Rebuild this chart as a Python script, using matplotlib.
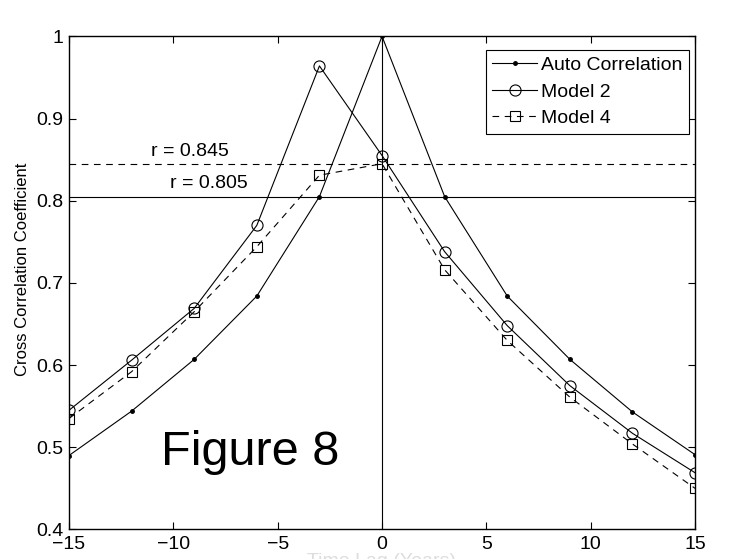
import matplotlib
matplotlib.use("Agg")
import matplotlib.pyplot as plt
from matplotlib.ticker import FixedLocator, FixedFormatter

plt.rcParams['font.family'] = ['Liberation Sans', 'DejaVu Sans']

lags = [-15, -12, -9, -6, -3, 0, 3, 6, 9, 12, 15]
auto_corr = [0.490, 0.544, 0.607, 0.684, 0.805, 1.000, 0.805, 0.684, 0.607, 0.543, 0.491]
model2 = [0.545, 0.606, 0.669, 0.770, 0.964, 0.855, 0.738, 0.648, 0.575, 0.517, 0.469]
model4 = [0.535, 0.592, 0.665, 0.744, 0.831, 0.845, 0.716, 0.630, 0.561, 0.504, 0.450]
r_model4 = 0.845
r_model2 = 0.805
xticks = [-15, -10, -5, 0, 5, 10, 15]
yticks = [0.4, 0.5, 0.6, 0.7, 0.8, 0.9, 1.0]
ytick_labels = ['0.4', '0.5', '0.6', '0.7', '0.8', '0.9', '1']

fig = plt.figure(figsize=(7.45, 5.59), dpi=100)
ax = fig.add_axes([0.0926, 0.0528, 0.8404, 0.8822])

lw = 0.8
ax.plot(lags, auto_corr, '-', color='black', lw=lw, marker='o', markersize=2.5,
        markerfacecolor='black', label='Auto Correlation')
ax.plot(lags, model2, '-', color='black', lw=lw, marker='o', markersize=8,
        markerfacecolor='none', markeredgewidth=0.8, label='Model 2')
ax.plot(lags, model4, '--', color='black', lw=lw, marker='s', markersize=6.5,
        markerfacecolor='none', markeredgewidth=0.8, dashes=(6, 5), label='Model 4')

ax.axhline(r_model4, color='black', lw=lw, ls='--', dashes=(6, 5))
ax.axhline(r_model2, color='black', lw=lw, ls='-')
ax.axvline(0, color='black', lw=lw)

ax.text(-9.2, r_model4 + 0.005, 'r = %.3f' % r_model4, ha='center', va='bottom', fontsize=14)
ax.text(-8.3, r_model2 + 0.005, 'r = %.3f' % r_model2, ha='center', va='bottom', fontsize=14)
ax.text(-6.3, 0.478, 'Figure 8', ha='center', va='baseline', fontsize=35)

ax.set_xlim(-15, 15)
ax.set_ylim(0.4, 1.0)
ax.xaxis.set_major_locator(FixedLocator(xticks))
ax.set_xticklabels([('\u2212%d' % -t) if t < 0 else '%d' % t for t in xticks])
ax.yaxis.set_major_locator(FixedLocator(yticks))
ax.yaxis.set_major_formatter(FixedFormatter(ytick_labels))
ax.tick_params(direction='in', length=5, width=0.8, top=True, right=True,
               labelsize=14, pad=4)
ax.tick_params(axis='x', pad=5)
for s in ax.spines.values():
    s.set_linewidth(1.0)

fig.text(23 / 745, 1 - 269 / 559, 'Cross Correlation Coefficient', rotation=90,
         ha='center', va='center', fontsize=12)
fig.text(0.512, 1 - 553 / 559, 'Time Lag (Years)', ha='center', va='top',
         fontsize=14, color='#dddddd')

leg = ax.legend(loc='upper right', bbox_to_anchor=(0.9905, 0.9726), fontsize=14,
                frameon=True, fancybox=False, edgecolor='black', framealpha=1,
                handlelength=2.3, handletextpad=0.2, borderpad=0.35,
                labelspacing=0.45, borderaxespad=0)
leg.get_frame().set_linewidth(0.8)

fig.savefig('out.png', dpi=100)
